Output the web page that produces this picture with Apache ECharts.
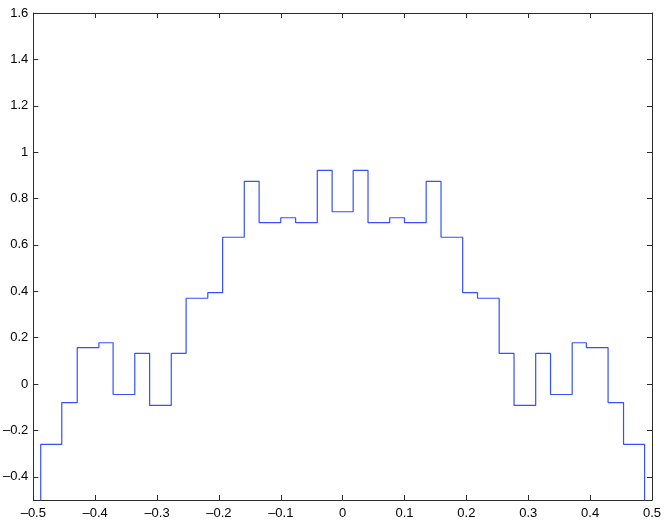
<!DOCTYPE html>
<html>
<head>
<meta charset="utf-8">
<script src="https://cdn.jsdelivr.net/npm/echarts@6/dist/echarts.min.js"></script>
<style>
  html, body { margin: 0; padding: 0; background: #fff; }
  #chart { width: 667px; height: 520px; }
</style>
</head>
<body>
<div id="chart"></div>
<script>
// step edges (x) and the level held between each pair of edges
const edges = [-0.5, -0.488, -0.454, -0.429, -0.394, -0.371, -0.336, -0.312, -0.277, -0.253, -0.218, -0.194,
  -0.159, -0.135, -0.100, -0.076, -0.041, -0.017, 0.017, 0.041, 0.076, 0.100, 0.135, 0.159,
  0.194, 0.218, 0.253, 0.277, 0.312, 0.336, 0.371, 0.394, 0.429, 0.454, 0.488, 0.5];
const levels = [-0.6, -0.26, -0.08, 0.157, 0.178, -0.045, 0.132, -0.092, 0.132, 0.370, 0.394,
  0.633, 0.874, 0.696, 0.717, 0.696, 0.921, 0.743, 0.921, 0.696, 0.717, 0.696, 0.874,
  0.633, 0.394, 0.370, 0.132, -0.092, 0.132, -0.045, 0.178, 0.157, -0.08, -0.26, -0.6];
const xTicks = [-0.5, -0.4, -0.3, -0.2, -0.1, 0, 0.1, 0.2, 0.3, 0.4, 0.5];
const yTicks = [-0.4, -0.2, 0, 0.2, 0.4, 0.6, 0.8, 1, 1.2, 1.4, 1.6];

const fmt = v => String(Math.round(v * 10) / 10).replace('-', '\u2013');

const stepData = edges.map((x, i) => [x, levels[Math.min(i, levels.length - 1)]]);

const axisColor = '#2b2b2b';
const labelFont = { color: '#000', fontSize: 13, fontFamily: 'Liberation Sans, Arial, sans-serif' };

const makeX = (pos, show) => ({
  type: 'value', position: pos, min: -0.5, max: 0.5,
  axisLine: { show: true, onZero: false, lineStyle: { color: axisColor, width: 1 } },
  axisTick: { show: true, inside: true, length: 5, customValues: xTicks, lineStyle: { color: axisColor } },
  axisLabel: Object.assign({ show: show, margin: 7, customValues: xTicks, formatter: fmt }, labelFont),
  splitLine: { show: false }
});
const makeY = (pos, show) => ({
  type: 'value', position: pos, min: -0.5, max: 1.6,
  axisLine: { show: true, onZero: false, lineStyle: { color: axisColor, width: 1 } },
  axisTick: { show: true, inside: true, length: 5, customValues: yTicks, lineStyle: { color: axisColor } },
  axisLabel: Object.assign({ show: show, margin: 5, customValues: yTicks, formatter: fmt }, labelFont),
  splitLine: { show: false }
});

const initChart = () => {
  const chartElement = document.getElementById('chart');
  if (!chartElement) return;
  const chart = echarts.init(chartElement);
  chart.setOption({
    animation: false,
    grid: { left: 32, right: 15, top: 13, bottom: 17 },
    xAxis: [makeX('bottom', true), makeX('top', false)],
    yAxis: [makeY('left', true), makeY('right', false)],
    series: [{
      type: 'line',
      step: 'end',
      data: stepData,
      showSymbol: false,
      clip: true,
      lineStyle: { color: '#3550ff', width: 1.2 }
    }]
  });
};

window.addEventListener('load', initChart);
</script>
</body>
</html>
